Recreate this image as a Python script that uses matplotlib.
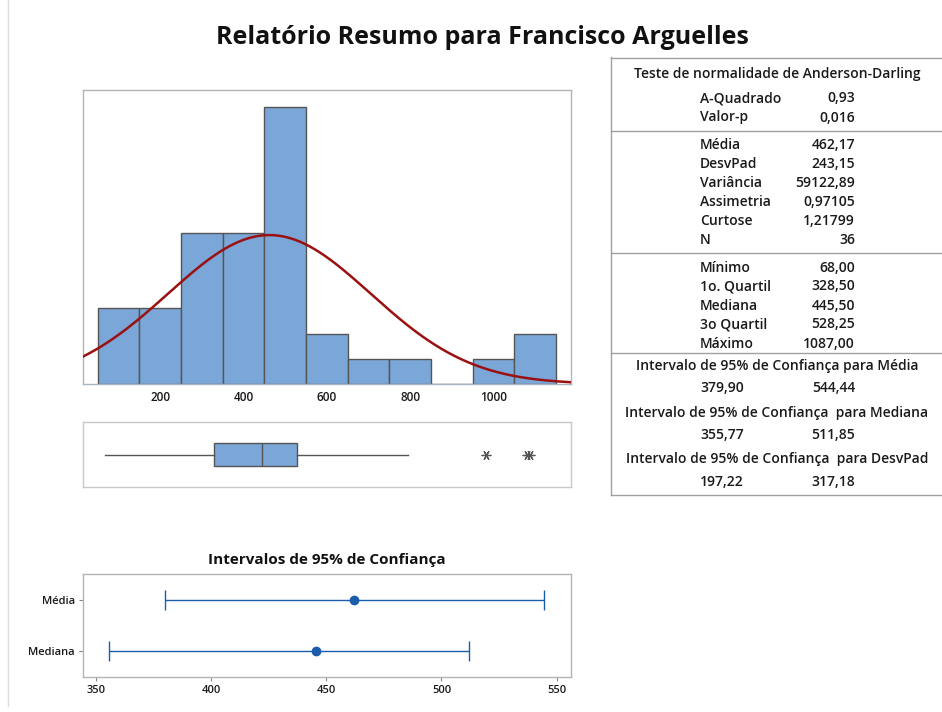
import numpy as np
import matplotlib
matplotlib.use("Agg")
import matplotlib.pyplot as plt
from matplotlib.lines import Line2D

plt.rcParams['font.family'] = ['Open Sans', 'DejaVu Sans']

# ---------------- data ----------------
title = "Relatório Resumo para Francisco Arguelles"
bin_edges = [50, 150, 250, 350, 450, 550, 650, 750, 850, 950, 1050, 1150]
counts = [3, 3, 6, 6, 11, 2, 1, 1, 0, 1, 2]
hist_ticks = [200, 400, 600, 800, 1000]

mean_val = 462.17
sd_val = 243.15
n_val = 36
q1, median_val, q3 = 328.50, 445.50, 528.25
whisker_lo, whisker_hi = 68.0, 795.0
outliers = [982.0, 1080.0, 1087.0]

ci_labels = ["Mediana", "Média"]
ci_centers = [445.50, 462.17]
ci_low = [355.77, 379.90]
ci_high = [511.85, 544.44]
ci_ticks = [350, 400, 450, 500, 550]

ad_rows = [("A-Quadrado", "0,93"), ("Valor-p", "0,016")]
desc_rows = [("Média", "462,17"), ("DesvPad", "243,15"), ("Variância", "59122,89"),
             ("Assimetria", "0,97105"), ("Curtose", "1,21799"), ("N", "36")]
quart_rows = [("Mínimo", "68,00"), ("1o. Quartil", "328,50"), ("Mediana", "445,50"),
              ("3o Quartil", "528,25"), ("Máximo", "1087,00")]
ci_table = [("Intervalo de 95% de Confiança para Média", "379,90", "544,44"),
            ("Intervalo de 95% de Confiança  para Mediana", "355,77", "511,85"),
            ("Intervalo de 95% de Confiança  para DesvPad", "197,22", "317,18")]

# ---------------- style ----------------
W, H = 942, 712
BAR = "#7BA6D8"
EDGE = "#555555"
FRAME = "#b4b4b4"
CURVE = "#9B1111"
CIBLUE = "#1A5DAB"
TXT = "#1a1a1a"

fig = plt.figure(figsize=(W / 100, H / 100), dpi=100)


def box(l, t, r, b):
    return [l / W, 1 - b / H, (r - l) / W, (b - t) / H]


fig.text(482 / W, 1 - 37 / H, title, ha="center", va="center",
         fontsize=18, fontweight="bold", color="#111111")

# faint left border line
fig.add_artist(Line2D([8 / W, 8 / W], [1 - 706 / H, 1.0], color="#dddddd", lw=1))

# ---------------- histogram ----------------
xlim = (15, 1186)
axh = fig.add_axes(box(83, 90, 571, 384))
lefts = bin_edges[:-1]
axh.bar(lefts, counts, width=np.diff(bin_edges), align="edge",
        color=BAR, edgecolor=EDGE, linewidth=1.0, zorder=2)
xs = np.linspace(xlim[0], xlim[1], 400)
binw = bin_edges[1] - bin_edges[0]
ys = n_val * binw * np.exp(-0.5 * ((xs - mean_val) / sd_val) ** 2) / (sd_val * np.sqrt(2 * np.pi))
axh.plot(xs, ys, color=CURVE, lw=1.8, zorder=3)
axh.set_xlim(*xlim)
axh.set_ylim(0, 11.66)
axh.set_yticks([])
axh.set_xticks(hist_ticks)
axh.set_xticklabels([str(t) for t in hist_ticks])
axh.tick_params(axis="x", length=0, pad=5, labelsize=8.5, labelcolor=TXT)
for lab in axh.get_xticklabels():
    lab.set_fontweight("semibold")
for s in axh.spines.values():
    s.set_color(FRAME)
    s.set_linewidth(1.0)
axh.spines["bottom"].set_color("#a9b3c4")

# ---------------- boxplot ----------------
axb = fig.add_axes(box(83, 422, 571, 487))
stats = [dict(med=median_val, q1=q1, q3=q3, whislo=whisker_lo, whishi=whisker_hi,
              fliers=outliers)]
axb.bxp(stats, positions=[0.5], widths=[0.34], vert=False, patch_artist=True,
        showcaps=False,
        boxprops=dict(facecolor=BAR, edgecolor=EDGE, linewidth=1.0),
        medianprops=dict(color=EDGE, linewidth=1.0),
        whiskerprops=dict(color="#555555", linewidth=1.0),
        flierprops=dict(marker=(6, 2, 90), markersize=7,
                        markeredgecolor="#555555", markeredgewidth=0.9, linestyle="none"))
axb.set_xlim(*xlim)
axb.set_ylim(0, 1)
axb.set_xticks([])
axb.set_yticks([])
for s in axb.spines.values():
    s.set_color("#c8c8c8")
    s.set_linewidth(1.0)

# ---------------- CI plot ----------------
axc = fig.add_axes(box(83, 574, 571, 677))
ypos = [1, 2]
lo_err = [c - l for c, l in zip(ci_centers, ci_low)]
hi_err = [h - c for c, h in zip(ci_centers, ci_high)]
axc.errorbar(ci_centers, ypos, xerr=[lo_err, hi_err], fmt="o", color=CIBLUE,
             ecolor=CIBLUE, elinewidth=1.0, capsize=7.2, capthick=1.0,
             markersize=6)
axc.set_xlim(344.5, 556.2)
axc.set_ylim(0.5, 2.5)
axc.set_xticks(ci_ticks)
axc.set_xticklabels([str(t) for t in ci_ticks])
axc.set_yticks(ypos)
axc.set_yticklabels(ci_labels)
axc.tick_params(axis="both", length=3, width=0.8, color="#888888",
                labelsize=8, labelcolor=TXT, pad=3)
for lab in axc.get_xticklabels() + axc.get_yticklabels():
    lab.set_fontweight("semibold")
for s in axc.spines.values():
    s.set_color(FRAME)
    s.set_linewidth(1.0)
fig.text(327 / W, 1 - 560 / H, "Intervalos de 95% de Confiança", ha="center",
         va="center", fontsize=11, fontweight="bold", color="#111111")

# ---------------- statistics table ----------------
axt = fig.add_axes(box(610, 57, 942, 495))
axt.set_xlim(610, 942)
axt.set_ylim(495, 57)
axt.axis("off")
lc = "#a0a0a0"
axt.plot([611, 611], [57, 495], color=lc, lw=1.0, clip_on=False)
axt.plot([611, 942], [57.5, 57.5], color=lc, lw=1.0, clip_on=False)
axt.plot([611, 942], [494.5, 494.5], color=lc, lw=1.0, clip_on=False)
for yy in [131, 252.5, 352.5]:
    axt.plot([611, 942], [yy, yy], color=lc, lw=1.0, clip_on=False)

fs = 10
xl, xr, xc = 700, 855, 777
axt.text(xc, 74, "Teste de normalidade de Anderson-Darling", ha="center",
         va="center", fontsize=fs, color=TXT, fontweight="semibold")


def rows(items, y0):
    for i, (lab, val) in enumerate(items):
        y = y0 + i * 19
        axt.text(xl, y, lab, ha="left", va="center", fontsize=fs, color=TXT, fontweight="semibold")
        axt.text(xr, y, val, ha="right", va="center", fontsize=fs, color=TXT, fontweight="semibold")


rows(ad_rows, 98.5)
rows(desc_rows, 145)
rows(quart_rows, 267.5)
for i, (hdr, a, b) in enumerate(ci_table):
    y = 366 + i * 46.5
    axt.text(xc, y, hdr, ha="center", va="center", fontsize=fs, color=TXT, fontweight="semibold")
    axt.text(xl, y + 22.5, a, ha="left", va="center", fontsize=fs, color=TXT, fontweight="semibold")
    axt.text(xr, y + 22.5, b, ha="right", va="center", fontsize=fs, color=TXT, fontweight="semibold")

fig.savefig("out.png", dpi=100)
